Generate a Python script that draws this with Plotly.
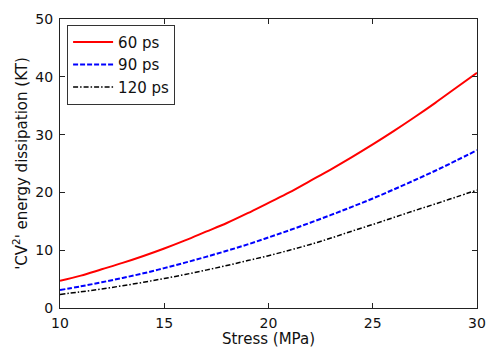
import plotly.graph_objects as go

stress = [10, 11, 12, 13, 14, 15, 16, 17, 18, 19, 20, 21, 22, 23, 24, 25, 26, 27, 28, 29, 30]
e_60ps = [4.7, 5.6, 6.7, 7.8, 9.0, 10.3, 11.7, 13.2, 14.7, 16.4, 18.2, 20.0, 22.0, 24.0, 26.1, 28.3, 30.6, 33.0, 35.5, 38.1, 40.7]
e_90ps = [3.1, 3.75, 4.45, 5.2, 6.0, 6.9, 7.85, 8.85, 9.9, 11.0, 12.2, 13.45, 14.75, 16.1, 17.5, 18.95, 20.5, 22.1, 23.75, 25.5, 27.3]
e_120ps = [2.35, 2.8, 3.3, 3.85, 4.45, 5.1, 5.8, 6.55, 7.35, 8.2, 9.05, 10.0, 11.0, 12.1, 13.3, 14.45, 15.65, 16.85, 18.0, 19.2, 20.4]
labels = ["60 ps", "90 ps", "120 ps"]

fig = go.Figure()
fig.add_trace(go.Scatter(x=stress, y=e_60ps, mode="lines", name=labels[0],
                         line=dict(color="#ff0000", width=2, shape="spline")))
fig.add_trace(go.Scatter(x=stress, y=e_90ps, mode="lines", name=labels[1],
                         line=dict(color="#0000ff", width=2, dash="5px,2px", shape="spline")))
fig.add_trace(go.Scatter(x=stress, y=e_120ps, mode="lines", name=labels[2],
                         line=dict(color="#000000", width=1.5, dash="5px,2px,1.5px,2px", shape="spline")))

font_fam = "DejaVu Sans, Verdana, sans-serif"
axis_common = dict(showgrid=False, zeroline=False, showline=True, linecolor="#222",
                   linewidth=1, mirror="ticks", ticks="inside", ticklen=5,
                   tickcolor="#222", automargin=False,
                   tickfont=dict(family=font_fam, size=14, color="#111"))

fig.update_layout(
    width=487, height=348,
    margin=dict(l=60, r=10, t=19, b=40),
    paper_bgcolor="white", plot_bgcolor="white",
    font=dict(family=font_fam, color="#111"),
    xaxis=dict(range=[10, 30], tickvals=[10, 15, 20, 25, 30],
               ticklabelstandoff=2,
               title=dict(text="Stress (MPa)", font=dict(family=font_fam, size=15), standoff=4),
               **axis_common),
    yaxis=dict(range=[0, 50], tickvals=[0, 10, 20, 30, 40, 50],
               ticklabelstandoff=3,
               title=dict(text="'CV<sup>2</sup>' energy dissipation (KT)",
                          font=dict(family=font_fam, size=15), standoff=4),
               **axis_common),
    legend=dict(x=0.017, y=0.98, xanchor="left", yanchor="top",
                bgcolor="white", bordercolor="#333", borderwidth=1,
                font=dict(family=font_fam, size=15), tracegroupgap=0,
                itemwidth=40),
    showlegend=True,
)

fig.write_html("out.html")
